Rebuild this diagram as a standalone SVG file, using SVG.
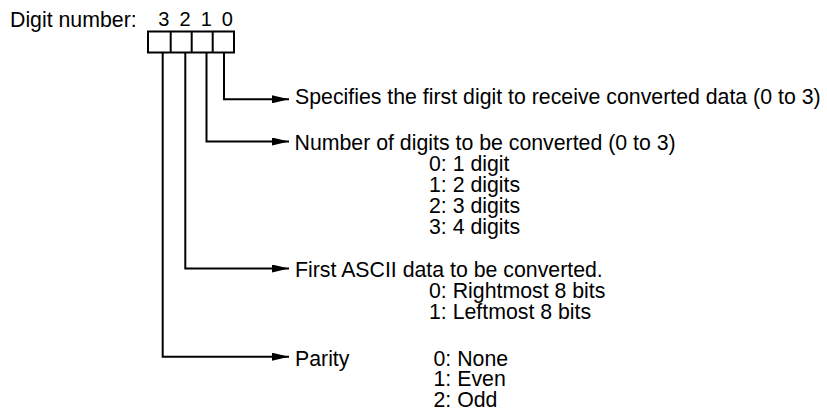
<svg xmlns="http://www.w3.org/2000/svg" width="827" height="411" viewBox="0 0 827 411">
<style>
text{font-family:"Liberation Sans",Arial,sans-serif;font-size:21.3px;fill:#000}
.d{font-size:20px;text-anchor:middle}
.ln{fill:none;stroke:#000;stroke-width:2}
</style>
<defs>
<marker id="ah" markerWidth="17" markerHeight="8" refX="17" refY="4" orient="auto" markerUnits="userSpaceOnUse">
<path d="M0,0 L17,4 L0,8 Z" fill="#000"/>
</marker>
</defs>
<rect width="827" height="411" fill="#fff"/>
<g id="header">
<text x="10" y="26.5">Digit number:</text>
<text class="d" x="163.8" y="25.5">3</text>
<text class="d" x="185" y="25.5">2</text>
<text class="d" x="206.3" y="25.5">1</text>
<text class="d" x="227.2" y="25.5">0</text>
</g>
<g id="digit-box">
<rect class="ln" x="148" y="31.5" width="86" height="21"/>
<line class="ln" x1="170.7" y1="31.5" x2="170.7" y2="52.5"/>
<line class="ln" x1="191.7" y1="31.5" x2="191.7" y2="52.5"/>
<line class="ln" x1="212.7" y1="31.5" x2="212.7" y2="52.5"/>
</g>
<g id="connectors">
<polyline class="ln" points="224,52.5 224,99.3 289,99.3" marker-end="url(#ah)"/>
<polyline class="ln" points="206.5,52.5 206.5,141.5 289,141.5" marker-end="url(#ah)"/>
<polyline class="ln" points="185.3,52.5 185.3,268.5 289,268.5" marker-end="url(#ah)"/>
<polyline class="ln" points="162.7,52.5 162.7,356.7 289,356.7" marker-end="url(#ah)"/>
</g>
<g id="digit0">
<text x="295" y="103.5">Specifies the first digit to receive converted data (0 to 3)</text>
</g>
<g id="digit1">
<text x="294.5" y="150">Number of digits to be converted (0 to 3)</text>
<text x="429" y="171">0: 1 digit</text>
<text x="429" y="192">1: 2 digits</text>
<text x="429" y="213">2: 3 digits</text>
<text x="429" y="234">3: 4 digits</text>
</g>
<g id="digit2">
<text x="295" y="277">First ASCII data to be converted.</text>
<text x="429" y="298">0: Rightmost 8 bits</text>
<text x="429" y="319">1: Leftmost 8 bits</text>
</g>
<g id="digit3">
<text x="295" y="365.5">Parity</text>
<text x="433.5" y="365.5">0: None</text>
<text x="433.5" y="386">1: Even</text>
<text x="433.5" y="406.5">2: Odd</text>
</g>
</svg>
